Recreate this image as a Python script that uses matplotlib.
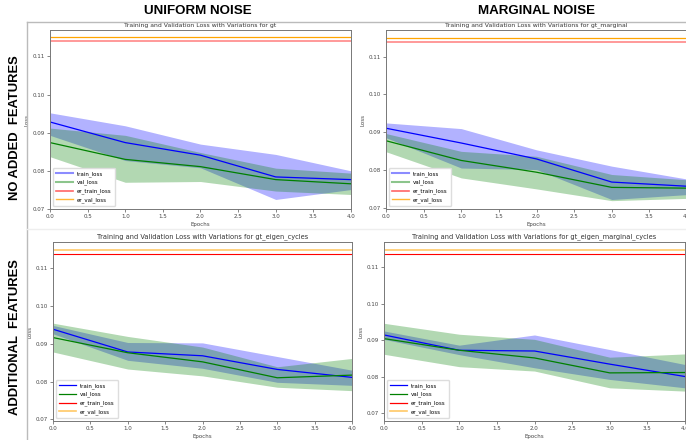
import matplotlib
matplotlib.use("Agg")
import matplotlib.pyplot as plt
from matplotlib.lines import Line2D
import numpy as np

W, H = 686, 440

epochs = [0, 1, 2, 3, 4]

# gt (uniform noise, no added features)
gt_train = [0.0928, 0.0874, 0.0841, 0.0784, 0.0777]
gt_train_hi = [0.0952, 0.0918, 0.0870, 0.0843, 0.0800]
gt_train_lo = [0.0893, 0.0827, 0.0808, 0.0725, 0.0751]
gt_val = [0.0874, 0.0830, 0.0811, 0.0777, 0.0766]
gt_val_hi = [0.0912, 0.0893, 0.0848, 0.0807, 0.0794]
gt_val_lo = [0.0837, 0.0770, 0.0772, 0.0747, 0.0738]
gt_er_train = 0.1139
gt_er_val = 0.1150

# gt_marginal
mg_train = [0.0911, 0.0872, 0.0830, 0.0769, 0.0758]
mg_train_hi = [0.0925, 0.0910, 0.0854, 0.0811, 0.0777]
mg_train_lo = [0.0886, 0.0806, 0.0802, 0.0723, 0.0736]
mg_val = [0.0878, 0.0826, 0.0795, 0.0755, 0.0753]
mg_val_hi = [0.0897, 0.0850, 0.0837, 0.0789, 0.0775]
mg_val_lo = [0.0849, 0.0780, 0.0751, 0.0720, 0.0726]
mg_er_train = 0.1139
mg_er_val = 0.1148

# gt_eigen_cycles
ec_train = [0.0938, 0.0878, 0.0868, 0.0832, 0.0811]
ec_train_hi = [0.0948, 0.0903, 0.0902, 0.0866, 0.0830]
ec_train_lo = [0.0926, 0.0856, 0.0835, 0.0798, 0.0790]
ec_val = [0.0916, 0.0876, 0.0852, 0.0810, 0.0817]
ec_val_hi = [0.0954, 0.0919, 0.0891, 0.0839, 0.0861]
ec_val_lo = [0.0878, 0.0833, 0.0815, 0.0785, 0.0776]
ec_er_train = 0.1137
ec_er_val = 0.1146

# gt_eigen_marginal_cycles
emc_train = [0.0914, 0.0872, 0.0870, 0.0834, 0.0800]
emc_train_hi = [0.0925, 0.0886, 0.0914, 0.0874, 0.0833]
emc_train_lo = [0.0902, 0.0860, 0.0824, 0.0792, 0.0769]
emc_val = [0.0904, 0.0872, 0.0851, 0.0810, 0.0811]
emc_val_hi = [0.0946, 0.0916, 0.0902, 0.0853, 0.0862]
emc_val_lo = [0.0861, 0.0827, 0.0815, 0.0769, 0.0760]
emc_er_train = 0.1137
emc_er_val = 0.1147

col_titles = ["UNIFORM NOISE", "MARGINAL NOISE"]
row_titles = ["NO ADDED  FEATURES", "ADDITIONAL  FEATURES"]
names = ["gt", "gt_marginal", "gt_eigen_cycles", "gt_eigen_marginal_cycles"]
xtick_vals = [0.0, 0.5, 1.0, 1.5, 2.0, 2.5, 3.0, 3.5, 4.0]
ytick_vals = [0.07, 0.08, 0.09, 0.10, 0.11]

panels = [
    dict(name=names[0], tr=gt_train, trh=gt_train_hi, trl=gt_train_lo,
         va=gt_val, vah=gt_val_hi, val=gt_val_lo, ert=gt_er_train, erv=gt_er_val,
         box=(50, 30, 351, 209), ylim=(0.0705, 0.1169), top=True),
    dict(name=names[1], tr=mg_train, trh=mg_train_hi, trl=mg_train_lo,
         va=mg_val, vah=mg_val_hi, val=mg_val_lo, ert=mg_er_train, erv=mg_er_val,
         box=(386, 30, 687, 209), ylim=(0.0698, 0.1170), top=True),
    dict(name=names[2], tr=ec_train, trh=ec_train_hi, trl=ec_train_lo,
         va=ec_val, vah=ec_val_hi, val=ec_val_lo, ert=ec_er_train, erv=ec_er_val,
         box=(53, 242, 352, 421), ylim=(0.0696, 0.1168), top=False),
    dict(name=names[3], tr=emc_train, trh=emc_train_hi, trl=emc_train_lo,
         va=emc_val, vah=emc_val_hi, val=emc_val_lo, ert=emc_er_train, erv=emc_er_val,
         box=(384, 242, 685, 421), ylim=(0.0678, 0.1169), top=False),
]

fig = plt.figure(figsize=(W / 100, H / 100), dpi=100)

def frac(l, t, r, b):
    return [l / W, 1 - b / H, (r - l) / W, (b - t) / H]

for p in panels:
    ax = fig.add_axes(frac(*p["box"]))
    x = epochs
    ax.plot(x, p["tr"], color="blue", lw=0.9, label="train_loss")
    ax.fill_between(x, p["trl"], p["trh"], color="blue", alpha=0.3, lw=0)
    ax.plot(x, p["va"], color="green", lw=0.9, label="val_loss")
    ax.fill_between(x, p["val"], p["vah"], color="green", alpha=0.3, lw=0)
    if p["top"]:
        ax.plot(x, [p["ert"]] * len(x), color="red", alpha=0.4, lw=1.4)
        ax.plot(x, [p["erv"]] * len(x), color="orange", lw=0.9)
        handles = [Line2D([], [], color="blue", alpha=0.45, lw=1.5),
                   Line2D([], [], color="green", alpha=0.45, lw=1.5),
                   Line2D([], [], color="red", alpha=0.6, lw=1.2),
                   Line2D([], [], color="orange", alpha=0.8, lw=1.0)]
    else:
        ax.plot(x, [p["ert"]] * len(x), color="red", lw=0.8)
        ax.plot(x, [p["erv"]] * len(x), color="orange", alpha=0.5, lw=1.4)
        handles = [Line2D([], [], color="blue", lw=0.9),
                   Line2D([], [], color="green", lw=0.9),
                   Line2D([], [], color="red", lw=0.9),
                   Line2D([], [], color="orange", alpha=0.6, lw=1.2)]
    ax.legend(handles, ["train_loss", "val_loss", "er_train_loss", "er_val_loss"],
              loc="lower left", fontsize=4, handlelength=3.0, labelspacing=0.55,
              borderpad=0.6, borderaxespad=0.5, frameon=True,
              edgecolor="#dddddd", framealpha=1.0, fancybox=True)
    ax.set_xlim(0, 4)
    ax.set_ylim(*p["ylim"])
    ax.set_xticks(xtick_vals)
    ax.set_xticklabels([f"{v:.1f}" for v in xtick_vals])
    ax.set_yticks(ytick_vals)
    ax.set_yticklabels([f"{v:.2f}" for v in ytick_vals])
    ax.tick_params(labelsize=4, length=2, width=0.5, pad=1.5, colors="#555555",
                   labelcolor="#444444")
    for s in ax.spines.values():
        s.set_color("#777777")
        s.set_linewidth(0.7)
    ax.set_title(f"Training and Validation Loss with Variations for {p['name']}",
                 fontsize=4.4 if p["top"] else 4.8, pad=2.5, color="#333333")
    ax.set_xlabel("Epochs", fontsize=4, labelpad=2, color="#444444")
    ax.set_ylabel("Loss", fontsize=4, labelpad=2.5, color="#444444")

hfont = dict(family=["Liberation Sans", "DejaVu Sans"], fontweight="bold",
             color="black")
fig.text(198 / W, 1 - 11.5 / H, col_titles[0], ha="center", va="center",
         fontsize=9.6, **hfont)
fig.text(537 / W, 1 - 11.5 / H, col_titles[1], ha="center", va="center",
         fontsize=9.6, **hfont)
fig.text(15.5 / W, 1 - 127.5 / H, row_titles[0], ha="center", va="center",
         rotation=90, fontsize=9.4, **hfont)
fig.text(15.5 / W, 1 - 337 / H, row_titles[1], ha="center", va="center",
         rotation=90, fontsize=9.4, **hfont)

# grey frame lines of the composite
fig.add_artist(Line2D([27 / W, 1], [1 - 22.5 / H] * 2, color="#bbbbbb", lw=1.0,
                      transform=fig.transFigure))
fig.add_artist(Line2D([27 / W] * 2, [0, 1 - 22.5 / H], color="#bbbbbb", lw=1.0,
                      transform=fig.transFigure))
fig.add_artist(Line2D([27 / W, 1], [1 - 229.5 / H] * 2, color="#eeeeee", lw=1.0,
                      transform=fig.transFigure))

fig.savefig("out.png", dpi=100)
